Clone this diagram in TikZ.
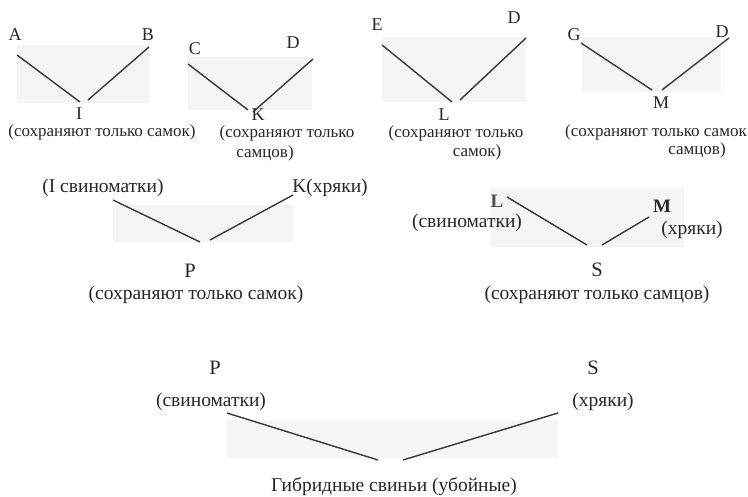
\documentclass[tikz,border=0pt]{standalone}
\usepackage{fontspec}
\setmainfont{Liberation Serif}
\begin{document}
\begin{tikzpicture}[x=1pt,y=-1pt,
  lbl/.style={inner sep=0pt, font=\fontsize{17}{19}\selectfont, text=black!85},
  letter/.style={lbl, font=\fontsize{18}{19}\selectfont},
  biglbl/.style={lbl, font=\fontsize{19.5}{21}\selectfont},
  bigletter/.style={lbl, font=\fontsize{20.5}{21}\selectfont},
  boldlbl/.style={lbl, font=\fontsize{19}{21}\selectfont\bfseries},
  cross/.style={line width=1.4pt, draw=black!78},
  haze/.style={fill=black!4, draw=none}]
\useasboundingbox (0,0) rectangle (748,497);

% faint panels behind each crossing
\fill[haze] (17,45) rectangle (150,103);
\fill[haze] (188,57) rectangle (312,110);
\fill[haze] (382,37) rectangle (526,102);
\fill[haze] (582,37) rectangle (721,92);
\fill[haze] (113,205) rectangle (293,242);
\fill[haze] (491,188) rectangle (684,247);
\fill[haze] (227,420) rectangle (558,458);

% ---------- first row ----------
\node[letter] (A) at (15,35) {A};
\node[letter] (B) at (148,35) {B};
\node[letter] (I) at (79,114) {I};
\node[lbl] (Inote) at (102,132) {(сохраняют только самок)};
\coordinate (a1) at (17,55);  \coordinate (a2) at (80,102);
\coordinate (b1) at (149,47); \coordinate (b2) at (88,100);
\draw[cross] (a1) -- (a2);
\draw[cross] (b1) -- (b2);

\node[letter] (C) at (195,49) {C};
\node[letter] (D1) at (293,43) {D};
\node[letter] (K) at (258,115) {K};
\node[lbl] (Knote) at (287,133) {(сохраняют только};
\node[lbl] (Knote2) at (265,153) {самцов)};
\coordinate (c1) at (188,64);  \coordinate (c2) at (248,110);
\coordinate (d1) at (313,59);  \coordinate (d2) at (253,112);
\draw[cross] (c1) -- (c2);
\draw[cross] (d1) -- (d2);

\node[letter] (E) at (377,25) {E};
\node[letter] (D2) at (514,18) {D};
\node[letter] (L) at (444,115) {L};
\node[lbl] (Lnote) at (456,133) {(сохраняют только};
\node[lbl] (Lnote2) at (477,152) {самок)};
\coordinate (e1) at (382,45);  \coordinate (e2) at (452,102);
\coordinate (f1) at (526,38);  \coordinate (f2) at (460,100);
\draw[cross] (e1) -- (e2);
\draw[cross] (f1) -- (f2);

\node[letter] (G) at (574,35) {G};
\node[letter] (D3) at (722,32) {D};
\node[letter] (M) at (661,103) {M};
\node[lbl] (Mnote) at (656,132) {(сохраняют только самок};
\node[lbl] (Mnote2) at (697,150) {самцов)};
\coordinate (g1) at (581,43);  \coordinate (g2) at (652,90);
\coordinate (h1) at (729,38);  \coordinate (h2) at (662,90);
\draw[cross] (g1) -- (g2);
\draw[cross] (h1) -- (h2);

% ---------- second row ----------
\node[biglbl] (Isow) at (103,188) {(I свиноматки)};
\node[biglbl] (Kboar) at (330,188) {K(хряки)};
\node[bigletter] (P) at (190,271) {P};
\node[biglbl] (Pnote) at (196,295) {(сохраняют только самок)};
\coordinate (p1) at (113,200); \coordinate (p2) at (200,242);
\coordinate (q1) at (293,195); \coordinate (q2) at (210,240);
\draw[cross] (p1) -- (p2);
\draw[cross] (q1) -- (q2);

\node[boldlbl, text=black!70] (L2) at (497,201) {L};
\node[biglbl] (Lsow) at (467,223) {(свиноматки)};
\node[boldlbl] (M2) at (662,206) {M};
\node[biglbl] (Mboar) at (692,230) {(хряки)};
\node[bigletter] (S) at (597,270) {S};
\node[biglbl] (Snote) at (597,295) {(сохраняют только самцов)};
\coordinate (l1) at (507,197); \coordinate (l2) at (587,245);
\coordinate (m1) at (649,217); \coordinate (m2) at (602,245);
\draw[cross] (l1) -- (l2);
\draw[cross] (m1) -- (m2);

% ---------- final cross ----------
\node[bigletter] (P2) at (215,368) {P};
\node[biglbl] (Psow) at (211,402) {(свиноматки)};
\node[bigletter] (S2) at (593,368) {S};
\node[biglbl] (Sboar) at (603,402) {(хряки)};
\node[biglbl] (H) at (394,487) {Гибридные свиньи (убойные)};
\coordinate (r1) at (227,413); \coordinate (r2) at (378,460);
\coordinate (s1) at (558,413); \coordinate (s2) at (403,460);
\draw[cross] (r1) -- (r2);
\draw[cross] (s1) -- (s2);
\end{tikzpicture}
\end{document}
